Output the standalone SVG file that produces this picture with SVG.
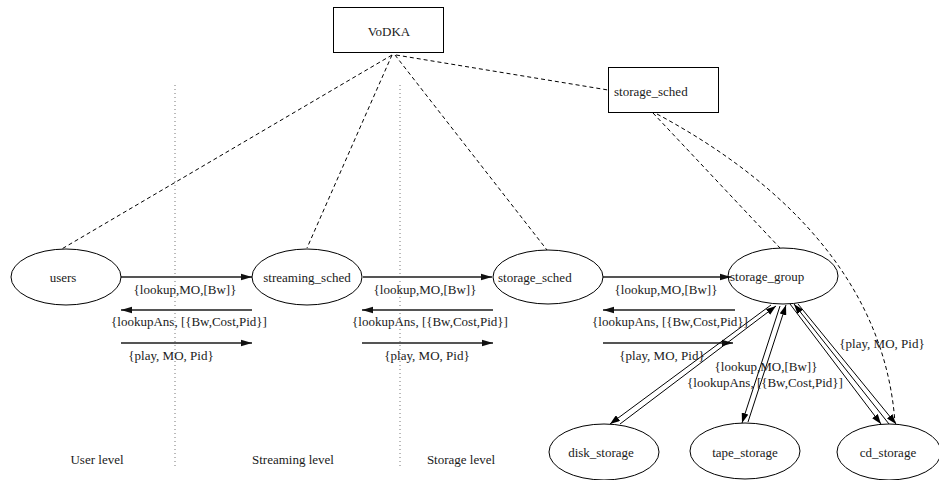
<svg xmlns="http://www.w3.org/2000/svg" width="939" height="480" viewBox="0 0 939 480">
  <style>
    text { font-family: "Liberation Serif", "Times New Roman", serif; font-size: 13px; fill: #1a1a1a; }
    .mid { text-anchor: middle; }
    .node { fill: #fff; stroke: #000; stroke-width: 1; }
    .dash { fill: none; stroke: #000; stroke-width: 1; stroke-dasharray: 4 3; }
    .dot { fill: none; stroke: #777; stroke-width: 1; stroke-dasharray: 1 3; }
    .msg { fill: none; stroke: #555; stroke-width: 2; marker-end: url(#headBold); }
    .thin { fill: none; stroke: #000; stroke-width: 1; marker-end: url(#head); }
  </style>
  <defs>
    <marker id="head" markerUnits="userSpaceOnUse" markerWidth="11" markerHeight="7" refX="10" refY="3.5" orient="auto">
      <path d="M0,0 L10,3.5 L0,7 z" fill="#000"/>
    </marker>
    <marker id="headBold" markerUnits="userSpaceOnUse" markerWidth="12" markerHeight="8" refX="11" refY="4" orient="auto">
      <path d="M0,0.8 L11,4 L0,7.2 z" fill="#111"/>
    </marker>
  </defs>
  <rect width="939" height="480" fill="#fff"/>

  <!-- level separators -->
  <g id="separators">
    <line class="dot" x1="175" y1="85" x2="175" y2="467"/>
    <line class="dot" x1="400" y1="85" x2="400" y2="467"/>
  </g>

  <!-- connectors -->
  <g id="connectors">
    <!-- supervision tree (dashed) -->
    <line class="dash" x1="392" y1="55" x2="60" y2="250"/>
    <line class="dash" x1="392" y1="55" x2="307" y2="248"/>
    <line class="dash" x1="395" y1="55" x2="547" y2="250"/>
    <line class="dash" x1="396" y1="55" x2="608" y2="90"/>
    <line class="dash" x1="653" y1="113" x2="780" y2="248"/>
    <path class="dash" d="M657,114 C780,180 885,280 895,423"/>

    <!-- users <-> streaming_sched -->
    <line class="msg" x1="121" y1="277" x2="252" y2="277"/>
    <line class="msg" x1="252" y1="310" x2="121" y2="310"/>
    <line class="msg" x1="121" y1="343" x2="252" y2="343"/>
    <!-- streaming_sched <-> storage_sched -->
    <line class="msg" x1="363" y1="277" x2="492" y2="277"/>
    <line class="msg" x1="493" y1="310" x2="362" y2="310"/>
    <line class="msg" x1="362" y1="343" x2="493" y2="343"/>
    <!-- storage_sched <-> storage_group -->
    <line class="msg" x1="603" y1="277" x2="731" y2="277"/>
    <line class="msg" x1="735" y1="310" x2="603" y2="310"/>
    <line class="msg" x1="603" y1="343" x2="733" y2="343"/>

    <!-- storage_group <-> disk_storage -->
    <line class="thin" x1="771" y1="305" x2="610" y2="424"/>
    <line class="thin" x1="620" y1="424" x2="776" y2="306"/>
    <!-- storage_group <-> tape_storage -->
    <line class="thin" x1="780" y1="306" x2="742" y2="423"/>
    <line class="thin" x1="748" y1="422" x2="786" y2="305"/>
    <!-- storage_group <-> cd_storage -->
    <line class="thin" x1="790" y1="304" x2="881" y2="424"/>
    <line class="thin" x1="889" y1="424" x2="794" y2="304"/>
    <line class="thin" x1="798" y1="304" x2="896" y2="424"/>
  </g>

  <!-- message labels -->
  <g id="labels">
    <text class="mid" x="185" y="294">{lookup,MO,[Bw]}</text>
    <text class="mid" x="189" y="326">{lookupAns, [{Bw,Cost,Pid}]</text>
    <text class="mid" x="171" y="360">{play, MO, Pid}</text>

    <text class="mid" x="425" y="294">{lookup,MO,[Bw]}</text>
    <text class="mid" x="430" y="326">{lookupAns, [{Bw,Cost,Pid}]</text>
    <text class="mid" x="427" y="360">{play, MO, Pid}</text>

    <text class="mid" x="666" y="294">{lookup,MO,[Bw]}</text>
    <text class="mid" x="670" y="326">{lookupAns, [{Bw,Cost,Pid}]</text>
    <text class="mid" x="662" y="360">{play, MO, Pid}</text>

    <text class="mid" x="766" y="371">{lookup,MO,[Bw]}</text>
    <text class="mid" x="765" y="387">{lookupAns, [{Bw,Cost,Pid}]</text>
    <text class="mid" x="882" y="348">{play, MO, Pid}</text>

    <text class="mid" x="97" y="464">User level</text>
    <text class="mid" x="293" y="464">Streaming level</text>
    <text class="mid" x="461" y="464">Storage level</text>
  </g>

  <!-- nodes -->
  <g id="vodka">
    <rect class="node" x="333.5" y="7.5" width="110" height="45"/>
    <text class="mid" x="389" y="36">VoDKA</text>
  </g>
  <g id="storage_sched_sup">
    <rect class="node" x="608.5" y="67.5" width="110" height="45"/>
    <text x="614" y="96">storage_sched</text>
  </g>
  <g id="users">
    <ellipse class="node" cx="66" cy="277" rx="55" ry="28"/>
    <text class="mid" x="63" y="282">users</text>
  </g>
  <g id="streaming_sched">
    <ellipse class="node" cx="307" cy="277" rx="55" ry="28"/>
    <text class="mid" x="307" y="282">streaming_sched</text>
  </g>
  <g id="storage_sched">
    <ellipse class="node" cx="548" cy="277" rx="55" ry="27"/>
    <text x="498" y="282">storage_sched</text>
  </g>
  <g id="storage_group">
    <ellipse class="node" cx="783" cy="276" rx="55" ry="28" fill-opacity="0"/>
    <text x="730" y="281">storage_group</text>
  </g>
  <g id="disk_storage">
    <ellipse class="node" cx="604" cy="452" rx="55" ry="28"/>
    <text class="mid" x="601" y="457">disk_storage</text>
  </g>
  <g id="tape_storage">
    <ellipse class="node" cx="745" cy="451" rx="55" ry="28"/>
    <text class="mid" x="745" y="457">tape_storage</text>
  </g>
  <g id="cd_storage">
    <ellipse class="node" cx="889" cy="452" rx="52" ry="28"/>
    <text class="mid" x="888" y="457">cd_storage</text>
  </g>
</svg>
